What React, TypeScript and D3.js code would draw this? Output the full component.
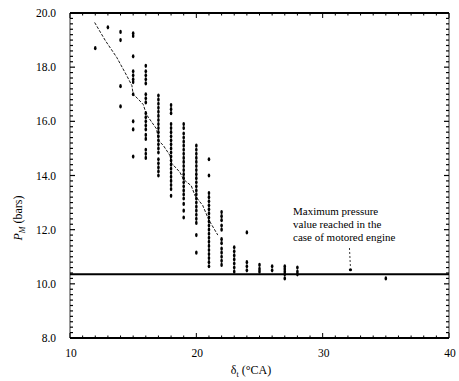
import React from 'react';
import * as d3 from 'd3';

// crank angle columns (°CA) and the peak pressures read at each one (bars)
const crankAngles = [12, 13, 14, 15, 16, 17, 18, 19, 20, 21, 22, 23, 24, 25, 26, 27, 28, 35];
const pressures = [
  [18.7],
  [19.47],
  [19.3, 19.0, 17.3, 16.55],
  [19.25, 19.15, 18.4, 17.85, 17.7, 17.55, 17.45, 17.0, 16.0, 15.7, 14.7],
  [18.05, 17.85, 17.7, 17.55, 17.4, 17.0, 16.85, 16.7, 16.3, 16.15, 16.0, 15.85, 15.7, 15.5, 15.35, 14.95, 14.8, 14.65],
  [16.95, 16.8, 16.65, 16.5, 16.35, 16.2, 16.05, 15.9, 15.75, 15.6, 15.45, 15.3, 15.15, 15.0, 14.85, 14.6, 14.45, 14.3, 14.15, 14.0],
  [16.6, 16.45, 16.3, 15.9, 15.75, 15.6, 15.45, 15.3, 15.15, 15.0, 14.85, 14.7, 14.55, 14.4, 14.25, 14.1, 13.95, 13.8, 13.65, 13.5, 13.25],
  [15.9, 15.75, 15.55, 15.4, 15.25, 15.1, 14.95, 14.8, 14.65, 14.5, 14.35, 14.2, 14.05, 13.9, 13.75, 13.6, 13.45, 13.3, 13.15, 12.95, 12.7, 12.45],
  [15.1, 14.95, 14.8, 14.65, 14.5, 14.35, 14.2, 14.05, 13.9, 13.75, 13.6, 13.45, 13.3, 13.15, 13.0, 12.85, 12.7, 12.55, 12.4, 12.25, 11.8, 11.15],
  [14.6, 14.0, 13.35, 13.2, 13.05, 12.9, 12.75, 12.6, 12.45, 12.3, 12.15, 12.0, 11.85, 11.7, 11.55, 11.4, 11.25, 11.1, 10.95, 10.8, 10.65],
  [12.65, 12.5, 12.35, 12.15, 12.0, 11.65, 11.5, 11.3, 11.15, 11.0, 10.85, 10.7],
  [11.35, 11.2, 11.05, 10.9, 10.75, 10.6, 10.45],
  [11.9, 10.8, 10.65, 10.5],
  [10.7, 10.55, 10.45],
  [10.65, 10.5],
  [10.65, 10.55, 10.45, 10.35, 10.2],
  [10.6, 10.45, 10.35],
  [10.2],
];

// dashed trend through the column means
const trendX = [11.95, 12.8, 13.7, 14.5, 14.9, 15.0, 15.4, 15.8, 16.05, 16.35, 16.85, 17.0, 17.4, 17.9, 18.05, 18.7, 19.0, 19.6, 19.9, 20.5, 21.0, 21.7];
const trendY = [19.65, 18.98, 18.36, 17.68, 17.32, 17.0, 16.82, 16.62, 16.25, 16.05, 15.72, 15.3, 15.1, 14.75, 14.45, 14.12, 13.85, 13.62, 13.25, 12.9, 12.35, 11.8];

// motored engine
const motoredPressure = 10.35;
const motoredPeak = { angle: 32.2, pressure: 10.52 };

const xTicks = [10, 20, 30, 40];
const yTicks = [8, 10, 12, 14, 16, 18, 20];
const annotationLines = ['Maximum pressure', 'value reached in the', 'case of motored engine'];

const W = 459;
const H = 381;
const left = 70, right = 449, top = 13, bottom = 338;

const App = () => {
  const x = d3.scaleLinear().domain([10, 40]).range([left, right]);
  const y = d3.scaleLinear().domain([8, 20]).range([bottom, top]);

  const points = crankAngles.flatMap((a, i) => pressures[i].map(p => ({ a, p })));
  const trend = d3.line<number>()
    .x((_, i) => x(trendX[i]))
    .y(d => y(d));

  const minorY = d3.range(8, 20.01, 0.2);
  const minorX = d3.range(10, 40.01, 1);
  const font = '"Liberation Serif", "Times New Roman", serif';

  return (
    <svg width={W} height={H} style={{ position: 'absolute', left: 0, top: 0, background: '#fff' }}
      fontFamily={font}>
      <rect width={W} height={H} fill="#fff" />

      {/* frame */}
      <line x1={left} x2={right} y1={top} y2={top} stroke="#000" strokeWidth={1.8} />
      <line x1={left} x2={right} y1={bottom} y2={bottom} stroke="#000" strokeWidth={1.8} />
      <line x1={left} x2={left} y1={top} y2={bottom} stroke="#000" strokeWidth={0.8} />
      <line x1={right} x2={right} y1={top} y2={bottom} stroke="#000" strokeWidth={0.8} />

      {minorY.map((v, i) => {
        const major = Math.abs(v - Math.round(v / 2) * 2) < 1e-6;
        const len = major ? 5 : 3;
        return (
          <g key={'yt' + i}>
            <line x1={left} x2={left + len} y1={y(v)} y2={y(v)} stroke="#000" strokeWidth={1.2} />
            <line x1={right} x2={right - len} y1={y(v)} y2={y(v)} stroke="#000" strokeWidth={1.2} />
          </g>
        );
      })}
      {minorX.map((v, i) => {
        const len = v % 10 === 0 ? 5 : 2.5;
        return (
          <g key={'xt' + i}>
            <line x1={x(v)} x2={x(v)} y1={bottom} y2={bottom - len} stroke="#000" strokeWidth={1} />
            <line x1={x(v)} x2={x(v)} y1={top} y2={top + len} stroke="#000" strokeWidth={1} />
          </g>
        );
      })}

      {yTicks.map(v => (
        <text key={'yl' + v} x={56} y={y(v) + 4} textAnchor="end" fontSize={11.5}>{v.toFixed(1)}</text>
      ))}
      {xTicks.map(v => (
        <text key={'xl' + v} x={x(v) + 1} y={357} textAnchor="middle" fontSize={11.5}>{v}</text>
      ))}

      {/* motored engine reference */}
      <line x1={left} x2={right} y1={y(motoredPressure)} y2={y(motoredPressure)} stroke="#000" strokeWidth={2} />

      {/* scatter */}
      {points.map((d, i) => (
        <ellipse key={'p' + i} cx={x(d.a)} cy={y(d.p)} rx={1.3} ry={2.1} fill="#000" />
      ))}
      <ellipse cx={x(motoredPeak.angle)} cy={y(motoredPeak.pressure)} rx={1.6} ry={1.6} fill="#000" />

      <path d={trend(trendY) || ''} fill="none" stroke="#000" strokeWidth={0.9} strokeDasharray="3,1.5" />

      {/* annotation */}
      {annotationLines.map((t, i) => (
        <text key={'an' + i} x={293} y={215 + i * 13} fontSize={11}>{t}</text>
      ))}
      <line x1={x(motoredPeak.angle) - 1} x2={x(motoredPeak.angle)} y1={248} y2={y(motoredPeak.pressure) - 2}
        stroke="#000" strokeWidth={0.8} strokeDasharray="2,2" />

      {/* axis titles */}
      <text x={251} y={374} textAnchor="middle" fontSize={12}>
        δ<tspan fontSize={8} dy={3}>t</tspan><tspan dy={-3}> (°CA)</tspan>
      </text>
      <text transform="translate(22,218) rotate(-90)" textAnchor="middle" fontSize={12}>
        <tspan fontStyle="italic">P</tspan><tspan fontSize={8} fontStyle="italic" dy={3}>M</tspan>
        <tspan dy={-3}> (bars)</tspan>
      </text>
    </svg>
  );
};

export default App;
